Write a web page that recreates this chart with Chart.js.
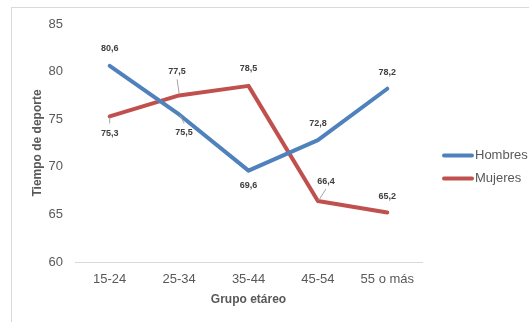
<!DOCTYPE html>
<html>
<head>
<meta charset="utf-8">
<script src="https://cdn.jsdelivr.net/npm/chart.js@4/dist/chart.umd.min.js"></script>
<style>
html,body{margin:0;padding:0;background:#fff;}
#wrap{width:529px;height:322px;position:relative;}
</style>
</head>
<body>
<div id="wrap"><canvas id="c" width="529" height="322"></canvas></div>
<script>
const categories = ['15-24', '25-34', '35-44', '45-54', '55 o más'];
const hombres = [80.6, 75.5, 69.6, 72.8, 78.2];
const mujeres = [75.3, 77.5, 78.5, 66.4, 65.2];
const yTicks = [60, 65, 70, 75, 80, 85];
const seriesNames = ['Hombres', 'Mujeres'];

// label placement (offsets from the point, px) and leader lines
const labelPlacement = [
  [{dx:0,dy:-17},{dx:5,dy:18,leader:[1,1,5,9]},{dx:0,dy:15},{dx:0,dy:-17},{dx:0,dy:-16}],
  [{dx:0,dy:17,leader:[0,1,0,7]},{dx:-2,dy:-24,leader:[0,-2,-2,-16]},{dx:0,dy:-17},{dx:8,dy:-20,leader:[1,-1,8,-12]},{dx:0,dy:-16}]
];

const fmt = v => v.toFixed(1).replace('.', ',');

const framePlugin = {
  id: 'frame',
  beforeDraw(chart) {
    const ctx = chart.ctx;
    ctx.save();
    ctx.fillStyle = '#fff';
    ctx.fillRect(0, 0, chart.width, chart.height);
    ctx.strokeStyle = '#d9d9d9';
    ctx.lineWidth = 1;
    ctx.strokeRect(11.5, 7.5, 700, 500);
    ctx.restore();
  }
};

const labelPlugin = {
  id: 'valueLabels',
  afterDatasetsDraw(chart) {
    const ctx = chart.ctx;
    ctx.save();
    ctx.font = 'bold 9px "Liberation Sans", Arial, sans-serif';
    ctx.textAlign = 'center';
    ctx.textBaseline = 'middle';
    chart.data.datasets.forEach((ds, di) => {
      const meta = chart.getDatasetMeta(di);
      meta.data.forEach((pt, i) => {
        const p = labelPlacement[di][i];
        if (p.leader) {
          ctx.strokeStyle = '#a6a6a6';
          ctx.lineWidth = 1;
          ctx.beginPath();
          ctx.moveTo(pt.x + p.leader[0], pt.y + p.leader[1]);
          ctx.lineTo(pt.x + p.leader[2], pt.y + p.leader[3]);
          ctx.stroke();
        }
        ctx.fillStyle = '#404040';
        ctx.fillText(fmt(ds.data[i]), pt.x + p.dx, pt.y + p.dy);
      });
    });
    ctx.restore();
  }
};

const legendPlugin = {
  id: 'customLegend',
  afterDraw(chart) {
    const ctx = chart.ctx;
    ctx.save();
    ctx.font = '13px "Liberation Sans", Arial, sans-serif';
    ctx.textBaseline = 'middle';
    chart.data.datasets.forEach((ds, i) => {
      const y = 155.5 + i * 23;
      ctx.strokeStyle = ds.borderColor;
      ctx.lineWidth = 4;
      ctx.lineCap = 'round';
      ctx.beginPath();
      ctx.moveTo(444, y);
      ctx.lineTo(472, y);
      ctx.stroke();
      ctx.fillStyle = '#595959';
      ctx.fillText(ds.label, 475, y);
    });
    ctx.restore();
  }
};

new Chart(document.getElementById('c'), {
  type: 'line',
  data: {
    labels: categories,
    datasets: [
      { label: seriesNames[0], data: hombres, borderColor: '#4F81BD', backgroundColor: '#4F81BD' },
      { label: seriesNames[1], data: mujeres, borderColor: '#C0504D', backgroundColor: '#C0504D' }
    ]
  },
  options: {
    responsive: false,
    animation: false,
    devicePixelRatio: 1,
    layout: { padding: { left: 26, right: 107, top: 24, bottom: 11 } },
    elements: {
      line: { borderWidth: 4, tension: 0, borderCapStyle: 'round', borderJoinStyle: 'round' },
      point: { radius: 0, hoverRadius: 0 }
    },
    plugins: { legend: { display: false }, tooltip: { enabled: false } },
    scales: {
      x: {
        offset: true,
        grid: { display: false, drawTicks: false },
        border: { display: true, color: '#d9d9d9', width: 1 },
        ticks: { color: '#595959', font: { size: 13, family: '"Liberation Sans", Arial, sans-serif' }, padding: 10, maxRotation: 0 },
        title: { display: true, text: 'Grupo etáreo', color: '#595959', font: { size: 12, weight: 'bold', family: '"Liberation Sans", Arial, sans-serif' } },
        afterFit(s) { s.height = 49; }
      },
      y: {
        min: yTicks[0],
        max: yTicks[yTicks.length - 1],
        afterBuildTicks(s) { s.ticks = yTicks.map(v => ({ value: v })); },
        grid: { display: false, drawTicks: false },
        border: { display: false },
        ticks: { color: '#595959', font: { size: 13, family: '"Liberation Sans", Arial, sans-serif' }, padding: 12 },
        title: { display: true, text: 'Tiempo de deporte', color: '#595959', font: { size: 12, weight: 'bold', family: '"Liberation Sans", Arial, sans-serif' } },
        afterFit(s) { s.width = 49; }
      }
    }
  },
  plugins: [framePlugin, labelPlugin, legendPlugin]
});
</script>
</body>
</html>
